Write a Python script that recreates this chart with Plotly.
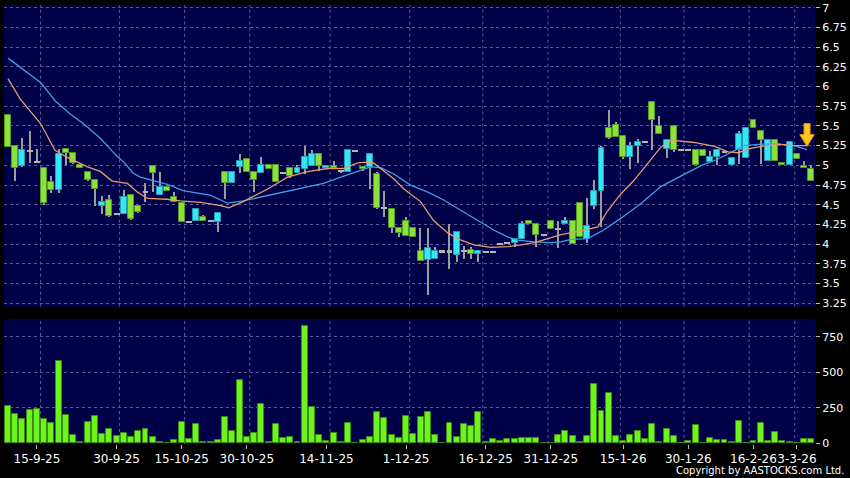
import plotly.graph_objects as go

# ---------------- data ----------------
date_labels = ["15-9-25", "30-9-25", "15-10-25", "30-10-25", "14-11-25", "1-12-25",
               "16-12-25", "31-12-25", "15-1-26", "30-1-26", "16-2-26", "3-3-26"]
date_idx = [4, 15, 24, 33, 44, 55, 66, 75, 85, 94, 103, 109]
grid_idx = [4.5, 15.4, 24.4, 33.4, 44.5, 55.5, 65.6, 74.6, 84.6, 93.4, 102.4, 108.7]

price_ticks = [3.25, 3.5, 3.75, 4, 4.25, 4.5, 4.75, 5, 5.25, 5.5, 5.75, 6, 6.25, 6.5, 6.75, 7]
price_tick_text = ["3.25", "3.5", "3.75", "4", "4.25", "4.5", "4.75", "5", "5.25", "5.5",
                   "5.75", "6", "6.25", "6.5", "6.75", "7"]
vol_ticks = [0, 250, 500, 750]

opens = [5.64, 5.24, 4.99, 5.19, 5.04, 4.96, 4.79, 4.69, 5.21, 5.16,
         5.00, 4.91, 4.81, 4.49, 4.56, 4.38, 4.38, 4.62, 4.49, 4.67,
         4.99, 4.62, 4.73, 4.60, 4.52, 4.29, 4.30, 4.35, 4.30, 4.28,
         4.92, 4.77, 4.98, 5.08, 4.91, 4.90, 5.00, 5.00, 4.91, 4.96,
         4.90, 4.95, 4.99, 5.15, 4.97, 4.99, 4.93, 4.91, 5.19, 4.98,
         4.98, 4.89, 4.46, 4.45, 4.20, 4.29, 4.20, 3.91, 3.80, 3.81,
         3.91, 3.91, 3.86, 3.92, 3.92, 3.88, 3.90, 3.90, 4.00, 4.02,
         4.02, 4.06, 4.30, 4.25, 4.12, 4.30, 4.19, 4.25, 4.29, 4.52,
         4.06, 4.49, 4.67, 5.48, 5.51, 5.37, 5.11, 5.25, 5.30, 5.80,
         5.50, 5.21, 5.50, 5.20, 5.20, 5.20, 5.20, 5.04, 5.11, 5.17,
         5.00, 5.20, 5.09, 5.58, 5.43, 5.06, 5.32, 5.03, 5.00, 5.14,
         4.99, 4.95]
highs = [5.64, 5.24, 5.35, 5.43, 5.21, 4.97, 4.86, 5.21, 5.21, 5.17,
         5.00, 4.93, 4.81, 4.61, 4.62, 4.39, 4.69, 4.63, 4.49, 4.77,
         5.00, 4.91, 4.73, 4.66, 4.52, 4.29, 4.46, 4.37, 4.30, 4.41,
         4.92, 4.92, 5.14, 5.08, 4.91, 5.10, 5.00, 5.00, 4.91, 4.96,
         5.01, 5.25, 5.19, 5.15, 4.99, 5.05, 4.93, 5.19, 5.19, 4.99,
         5.14, 4.91, 4.68, 4.45, 4.20, 4.34, 4.20, 4.20, 4.20, 3.96,
         3.91, 4.25, 4.15, 3.98, 3.97, 3.93, 3.90, 3.90, 4.00, 4.02,
         4.08, 4.30, 4.30, 4.25, 4.12, 4.30, 4.30, 4.35, 4.29, 4.52,
         4.58, 4.81, 5.25, 5.70, 5.55, 5.37, 5.29, 5.34, 5.30, 5.80,
         5.63, 5.32, 5.50, 5.20, 5.20, 5.20, 5.20, 5.18, 5.20, 5.17,
         5.09, 5.43, 5.47, 5.58, 5.43, 5.32, 5.32, 5.03, 5.31, 5.14,
         5.05, 5.00]
lows = [5.23, 4.80, 4.98, 5.03, 5.03, 4.50, 4.65, 4.65, 5.00, 5.02,
        4.96, 4.80, 4.49, 4.38, 4.34, 4.37, 4.38, 4.31, 4.40, 4.53,
        4.66, 4.62, 4.67, 4.53, 4.28, 4.29, 4.30, 4.30, 4.30, 4.15,
        4.57, 4.77, 4.90, 4.91, 4.66, 4.90, 4.95, 4.79, 4.91, 4.84,
        4.90, 4.89, 4.99, 4.93, 4.97, 4.97, 4.91, 4.91, 5.19, 4.93,
        4.70, 4.45, 4.35, 4.14, 4.09, 4.11, 4.09, 3.79, 3.36, 3.81,
        3.91, 3.68, 3.77, 3.81, 3.81, 3.78, 3.90, 3.90, 4.00, 4.02,
        3.97, 4.06, 4.25, 3.96, 4.12, 4.19, 3.95, 4.25, 4.00, 4.09,
        4.01, 4.44, 4.22, 5.34, 5.36, 5.08, 4.95, 5.03, 5.30, 5.19,
        5.40, 5.09, 5.17, 5.20, 5.20, 5.00, 5.12, 5.04, 5.00, 5.17,
        5.00, 5.02, 5.09, 5.48, 5.02, 5.06, 5.06, 5.00, 5.00, 5.08,
        4.96, 4.80]
closes = [5.23, 4.96, 5.20, 5.19, 5.04, 4.52, 4.69, 5.14, 5.16, 5.03,
          4.96, 4.81, 4.70, 4.54, 4.36, 4.38, 4.60, 4.32, 4.41, 4.67,
          4.90, 4.73, 4.67, 4.53, 4.28, 4.29, 4.44, 4.30, 4.30, 4.40,
          4.77, 4.92, 5.06, 4.91, 4.82, 5.00, 4.95, 4.79, 4.91, 4.86,
          4.96, 5.10, 5.14, 4.99, 4.99, 4.97, 4.93, 5.19, 5.19, 4.95,
          5.14, 4.46, 4.46, 4.20, 4.14, 4.11, 4.09, 3.79, 3.95, 3.91,
          3.91, 3.91, 4.15, 3.92, 3.87, 3.91, 3.90, 3.90, 4.00, 4.02,
          4.06, 4.25, 4.25, 4.12, 4.12, 4.19, 4.19, 4.29, 4.00, 4.09,
          4.23, 4.67, 5.22, 5.35, 5.36, 5.11, 5.25, 5.30, 5.30, 5.58,
          5.40, 5.32, 5.19, 5.20, 5.20, 5.00, 5.12, 5.11, 5.20, 5.17,
          5.09, 5.40, 5.47, 5.48, 5.32, 5.32, 5.06, 5.00, 5.29, 5.08,
          4.96, 4.80]
volumes = [262, 209, 171, 237, 241, 169, 143, 579, 197, 56,
           7, 150, 192, 68, 98, 52, 70, 42, 87, 98,
           47, 7, 1, 21, 148, 30, 134, 12, 7, 21,
           187, 87, 443, 45, 70, 274, 7, 138, 37, 45,
           7, 829, 255, 56, 19, 73, 7, 143, 0, 21,
           42, 218, 180, 59, 35, 194, 68, 187, 220, 61,
           0, 141, 45, 136, 122, 218, 7, 28, 16, 28,
           30, 37, 35, 40, 0, 2, 59, 84, 49, 9,
           49, 415, 227, 356, 54, 19, 56, 87, 28, 136,
           7, 103, 54, 0, 16, 127, 5, 35, 23, 23,
           7, 157, 0, 16, 143, 19, 82, 14, 12, 0,
           30, 33]

# moving averages (bar-index position, value)
ma10_x = [0, 1.7, 4.5, 6.5, 8.2, 11.0, 12.8, 14.4, 16.5, 17.9, 19.3, 22.0, 23.8, 26.6,
          29.4, 30.5, 32.5, 35.9, 38.6, 41.4, 44.2, 46.4, 48.3, 49.7, 50.5, 51.5, 52.5,
          53.3, 54.7, 57.0, 58.8, 60.8, 62.6, 64.4, 66.7, 69.1, 70.9, 72.7, 74.6, 76.4,
          79.2, 81.5, 82.9, 84.7, 86.5, 88.4, 90.2, 91.6, 94.8, 97.6, 99.5, 100.9,
          102.3, 104.1, 106.4, 108.6, 110.3]
ma10_y = [6.10, 5.84, 5.53, 5.19, 5.10, 4.98, 4.92, 4.80, 4.77, 4.66, 4.58, 4.57, 4.55, 4.53,
          4.49, 4.46, 4.54, 4.70, 4.85, 4.92, 4.96, 4.96, 5.03, 5.04, 5.03, 4.96, 4.89,
          4.83, 4.70, 4.54, 4.30, 4.14, 4.05, 3.99, 3.96, 3.97, 3.99, 4.02, 4.07, 4.12,
          4.17, 4.22, 4.43, 4.64, 4.81, 5.02, 5.23, 5.32, 5.29, 5.24, 5.17, 5.16,
          5.21, 5.24, 5.27, 5.25, 5.25]
ma20_x = [0, 1.7, 4.5, 5.9, 6.5, 8.6, 10.4, 12.8, 14.9, 16.0, 17.3, 18.3, 20.6, 22.0,
          24.2, 26.6, 28.0, 29.4, 30.3, 32.5, 35.9, 38.6, 41.4, 43.6, 46.0, 48.3, 50.1,
          51.5, 53.3, 55.6, 58.0, 60.2, 62.6, 64.9, 67.1, 69.1, 70.4, 72.7, 75.0, 76.4,
          77.8, 80.1, 82.3, 84.7, 87.5, 90.2, 93.0, 95.8, 98.1, 99.9, 101.7, 104.1,
          106.4, 108.6, 110.4]
ma20_y = [6.36, 6.24, 6.05, 5.89, 5.82, 5.65, 5.53, 5.34, 5.13, 5.04, 4.90, 4.85, 4.79, 4.76,
          4.68, 4.64, 4.62, 4.56, 4.52, 4.55, 4.62, 4.67, 4.73, 4.77, 4.85, 4.92, 4.98,
          4.97, 4.89, 4.75, 4.66, 4.56, 4.43, 4.30, 4.18, 4.09, 4.05, 4.03, 4.02, 4.03,
          4.06, 4.07, 4.18, 4.33, 4.52, 4.73, 4.87, 5.00, 5.08, 5.17, 5.25, 5.27,
          5.27, 5.25, 5.20]

# ---------------- styling ----------------
NAVY = "#000048"
GRID = "#5a5a98"
UP_FILL, UP_LINE = "#35e6f6", "#1f9fb0"
DN_FILL, DN_LINE = "#8be23a", "#559a20"
DOJI = "#b4b4b4"
WICK = "#9c9c9c"
VOL_FILL, VOL_LINE = "#6cf41c", "#3a8c12"
FONT = "DejaVu Sans"

n = len(closes)
idx = list(range(n))

up_x, up_b, up_h = [], [], []
dn_x, dn_b, dn_h = [], [], []
dj_x, dj_b = [], []
for i in idx:
    o, c = opens[i], closes[i]
    if c > o:
        up_x.append(i); up_b.append(o); up_h.append(c - o)
    elif c < o:
        dn_x.append(i); dn_b.append(c); dn_h.append(o - c)
    else:
        dj_x.append(i); dj_b.append(o - 0.01)

BODY_W = 0.82

fig = go.Figure()
# wicks
fig.add_trace(go.Bar(x=idx, base=lows, y=[h - l for h, l in zip(highs, lows)],
                     width=0.15, marker=dict(color=WICK, line=dict(width=0)),
                     xaxis="x", yaxis="y", hoverinfo="skip"))
# bodies
fig.add_trace(go.Bar(x=dn_x, base=dn_b, y=dn_h, width=BODY_W,
                     marker=dict(color=DN_FILL, line=dict(color=DN_LINE, width=1)),
                     xaxis="x", yaxis="y"))
fig.add_trace(go.Bar(x=up_x, base=up_b, y=up_h, width=BODY_W,
                     marker=dict(color=UP_FILL, line=dict(color=UP_LINE, width=1)),
                     xaxis="x", yaxis="y"))
fig.add_trace(go.Bar(x=dj_x, base=dj_b, y=[0.02] * len(dj_x), width=BODY_W,
                     marker=dict(color=DOJI, line=dict(width=0)),
                     xaxis="x", yaxis="y"))
# moving averages
fig.add_trace(go.Scatter(x=ma20_x, y=ma20_y, mode="lines",
                         line=dict(color="#3d9fe8", width=1.3), xaxis="x", yaxis="y"))
fig.add_trace(go.Scatter(x=ma10_x, y=ma10_y, mode="lines",
                         line=dict(color="#e59a6e", width=1.3), xaxis="x", yaxis="y"))
# volume
fig.add_trace(go.Bar(x=idx, y=volumes, width=BODY_W,
                     marker=dict(color=VOL_FILL, line=dict(color=VOL_LINE, width=1)),
                     xaxis="x2", yaxis="y2"))

tickfont = dict(family=FONT, size=11, color="white")

fig.update_layout(
    width=850, height=478,
    margin=dict(l=4, r=35, t=5, b=34, autoexpand=False),
    paper_bgcolor="black", plot_bgcolor=NAVY,
    showlegend=False, barmode="overlay", bargap=0,
    xaxis=dict(domain=[0, 1], anchor="y", range=[-0.55, 111.5], showgrid=False,
               zeroline=False, showticklabels=False, ticks=""),
    xaxis2=dict(domain=[0, 1], anchor="y2", matches="x", range=[-0.55, 111.5],
                showgrid=False, zeroline=False, tickmode="array", tickvals=date_idx,
                ticktext=date_labels, tickangle=0, ticks="outside", ticklen=4,
                tickcolor="#bbbbbb", tickfont=dict(family=FONT, size=12, color="white")),
    yaxis=dict(domain=[0.3128, 1], anchor="x", side="right", range=[3.207, 7.034],
               tickmode="array", tickvals=price_ticks, ticktext=price_tick_text,
               showgrid=True, gridcolor=GRID, griddash="3px,3px", gridwidth=1,
               zeroline=False, ticks="outside", ticklen=4, tickcolor="#bbbbbb",
               tickfont=tickfont),
    yaxis2=dict(domain=[0, 0.2847], anchor="x2", side="right", range=[-5, 875],
                tickmode="array", tickvals=vol_ticks, showgrid=True, gridcolor=GRID,
                griddash="3px,3px", gridwidth=1, zeroline=False, ticks="outside",
                ticklen=4, tickcolor="#bbbbbb", tickfont=tickfont),
)

# vertical dashed grid lines in both panels
for g in grid_idx:
    fig.add_shape(type="line", xref="x", yref="y domain", x0=g, x1=g, y0=0, y1=1,
                  line=dict(color=GRID, width=1, dash="3px,3px"), layer="below")
    fig.add_shape(type="line", xref="x2", yref="y2 domain", x0=g, x1=g, y0=0, y1=1,
                  line=dict(color=GRID, width=1, dash="3px,3px"), layer="below")

# yellow marker arrow above the latest bar
ax, top, neck, tip = 110.4, 5.53, 5.39, 5.24
fig.add_shape(type="path", xref="x", yref="y",
              path=(f"M {ax-0.42},{top} L {ax+0.42},{top} L {ax+0.42},{neck} "
                    f"L {ax+1.0},{neck} L {ax},{tip} L {ax-1.0},{neck} "
                    f"L {ax-0.42},{neck} Z"),
              fillcolor="#f8c81c", line=dict(color="#e39400", width=1))

fig.add_annotation(text="Copyright by AASTOCKS.com Ltd.", xref="paper", yref="paper",
                   x=1.0382, y=-0.0615, xanchor="right", yanchor="middle",
                   showarrow=False, font=dict(family=FONT, size=10, color="white"))

fig.write_html("out.html", config={"displayModeBar": False},
               post_script="document.body.style.margin='0px';"
                           "document.body.style.overflow='hidden';")
